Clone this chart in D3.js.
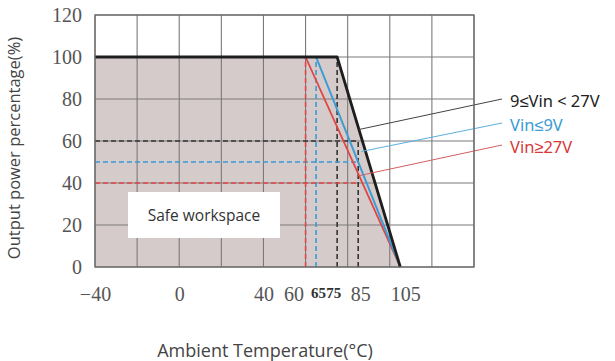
<!DOCTYPE html>
<html>
<head>
<meta charset="utf-8">
<script src="https://cdn.jsdelivr.net/npm/d3@7"></script>
<style>
    body { margin: 0; background: #fff; }
    svg { display: block; }
</style>
</head>
<body>
<div id="chart"></div>
<script>
// derating curves (temperature °C, output %)
const curveBlack = [[-40, 100], [75, 100], [105, 0]];   // 9≤Vin<27V
const curveBlue = [[65, 100], [105, 0]];                 // Vin≤9V
const curveRed = [[60, 100], [105, 0]];                  // Vin≥27V

// dashed helper lines
const dashBlack = [[[-40, 60], [85, 60]], [[75, 0], [75, 100]], [[85, 0], [85, 60]]];
const dashBlue = [[[-40, 50], [85, 50]], [[65, 0], [65, 100]]];
const dashRed = [[[-40, 40], [85, 40]], [[60, 0], [60, 100]]];

const xTicks = [-40, 0, 40, 60, 65, 75, 85, 105];
const xGrid = [-40, -20, 0, 20, 40, 60, 80, 100, 120, 140];
const yTicks = [0, 20, 40, 60, 80, 100, 120];

const legendNames = ["9≤Vin < 27V", "Vin≤9V", "Vin≥27V"];
// where each leader line touches its curve
const legendAnchors = [[85.5, 65.5], [86.5, 55], [85.5, 43.5]];

const colors = { black: "#1e1e1e", blue: "#3a9bd5", red: "#e04444" };

const width = 615, height = 361;
const plot = { left: 95, right: 474, top: 15, bottom: 267 };

const svg = d3.select("#chart").append("svg")
    .attr("width", width)
    .attr("height", height);

const x = d3.scaleLinear().domain([-40, 140]).range([plot.left, plot.right]);
const y = d3.scaleLinear().domain([0, 120]).range([plot.bottom, plot.top]);

const line = d3.line().x(d => x(d[0])).y(d => y(d[1]));

// shaded safe area under the black curve
const area = d3.area()
    .x(d => x(d[0]))
    .y0(y(0))
    .y1(d => y(d[1]));
svg.append("path")
    .datum(curveBlack)
    .attr("fill", "#d6cbcb")
    .attr("d", area);

// grid
svg.append("g")
    .selectAll("line.v")
    .data(xGrid)
    .join("line")
    .attr("x1", d => x(d)).attr("x2", d => x(d))
    .attr("y1", y(0)).attr("y2", y(120))
    .attr("stroke", "#7a7a7a")
    .attr("stroke-width", 1.1);

svg.append("g")
    .selectAll("line.h")
    .data(yTicks)
    .join("line")
    .attr("x1", x(-40)).attr("x2", x(140))
    .attr("y1", d => y(d)).attr("y2", d => y(d))
    .attr("stroke", "#7a7a7a")
    .attr("stroke-width", 1.1);

// safe workspace label box
svg.append("rect")
    .attr("x", 128).attr("y", 192)
    .attr("width", 152).attr("height", 46)
    .attr("fill", "#fff");
svg.append("text")
    .attr("x", 204).attr("y", 215)
    .attr("text-anchor", "middle")
    .attr("dominant-baseline", "central")
    .attr("font-family", "'Open Sans', sans-serif")
    .attr("font-size", 15.5)
    .attr("fill", "#333")
    .text("Safe workspace");

// dashed helpers
function drawDashes(segs, color) {
    svg.append("g")
        .selectAll("path")
        .data(segs)
        .join("path")
        .attr("d", line)
        .attr("fill", "none")
        .attr("stroke", color)
        .attr("stroke-width", 1.6)
        .attr("stroke-dasharray", "5,3");
}
drawDashes(dashBlack, "#333");
drawDashes(dashBlue, colors.blue);
drawDashes(dashRed, colors.red);

// curves
svg.append("path").datum(curveRed)
    .attr("d", line).attr("fill", "none")
    .attr("stroke", colors.red).attr("stroke-width", 1.8);
svg.append("path").datum(curveBlue)
    .attr("d", line).attr("fill", "none")
    .attr("stroke", colors.blue).attr("stroke-width", 2);
svg.append("path").datum(curveBlack)
    .attr("d", line).attr("fill", "none")
    .attr("stroke", colors.black).attr("stroke-width", 2.8)
    .attr("stroke-linejoin", "round");

// legend with leader lines
const legendColors = ["#222", "#3a9bd5", "#d8373a"];
const leaderColors = ["#444", "#5ab0e0", "#d06060"];
const legendY = [100, 124, 146];
legendNames.forEach((name, i) => {
    svg.append("line")
        .attr("x1", x(legendAnchors[i][0]))
        .attr("y1", y(legendAnchors[i][1]))
        .attr("x2", 502)
        .attr("y2", legendY[i] - 1)
        .attr("stroke", leaderColors[i])
        .attr("stroke-width", 1);
    svg.append("text")
        .attr("x", 510)
        .attr("y", legendY[i])
        .attr("dominant-baseline", "central")
        .attr("font-family", "'Noto Sans', sans-serif")
        .attr("font-size", 16.5)
        .attr("fill", legendColors[i])
        .text(name);
});

// plot frame
svg.append("rect")
    .attr("x", plot.left).attr("y", plot.top)
    .attr("width", plot.right - plot.left)
    .attr("height", plot.bottom - plot.top)
    .attr("fill", "none")
    .attr("stroke", "#6a6a6a")
    .attr("stroke-width", 1.3);

// y axis labels
const yAxis = d3.axisLeft(y).tickValues(yTicks).tickSize(0).tickPadding(13);
const gy = svg.append("g")
    .attr("transform", "translate(" + plot.left + ",0)")
    .call(yAxis);
gy.select(".domain").remove();
gy.selectAll("text")
    .attr("font-family", "'Liberation Serif', serif")
    .attr("font-size", 20)
    .attr("fill", "#555");

// x axis labels, the crowded ones are nudged like in the source
const small = new Set([65, 75]);
const nudge = { 60: -12, 65: 2, 75: -4, 85: 2, 105: 5 };
const xAxis = d3.axisBottom(x).tickValues(xTicks).tickSize(0).tickPadding(20)
    .tickFormat(d => d < 0 ? "\u2212" + Math.abs(d) : d);
const gx = svg.append("g")
    .attr("transform", "translate(0," + plot.bottom + ")")
    .call(xAxis);
gx.select(".domain").remove();
gx.selectAll("text")
    .attr("dx", d => nudge[d] || 0)
    .attr("font-family", d => small.has(d) ? "'Liberation Sans Narrow', 'Liberation Serif', serif" : "'Liberation Serif', serif")
    .attr("font-size", d => small.has(d) ? 15 : 20)
    .attr("font-weight", d => small.has(d) ? "bold" : "normal")
    .attr("fill", d => small.has(d) ? "#333" : "#555");

// axis titles
svg.append("text")
    .attr("x", 265).attr("y", 350)
    .attr("text-anchor", "middle")
    .attr("dominant-baseline", "central")
    .attr("font-family", "'Open Sans', sans-serif")
    .attr("font-size", 18)
    .attr("fill", "#444")
    .text("Ambient Temperature(°C)");

svg.append("text")
    .attr("transform", "translate(13,148) rotate(-90)")
    .attr("text-anchor", "middle")
    .attr("dominant-baseline", "central")
    .attr("font-family", "'Open Sans', sans-serif")
    .attr("font-size", 16.5)
    .attr("fill", "#444")
    .text("Output power percentage(%)");
</script>
</body>
</html>
